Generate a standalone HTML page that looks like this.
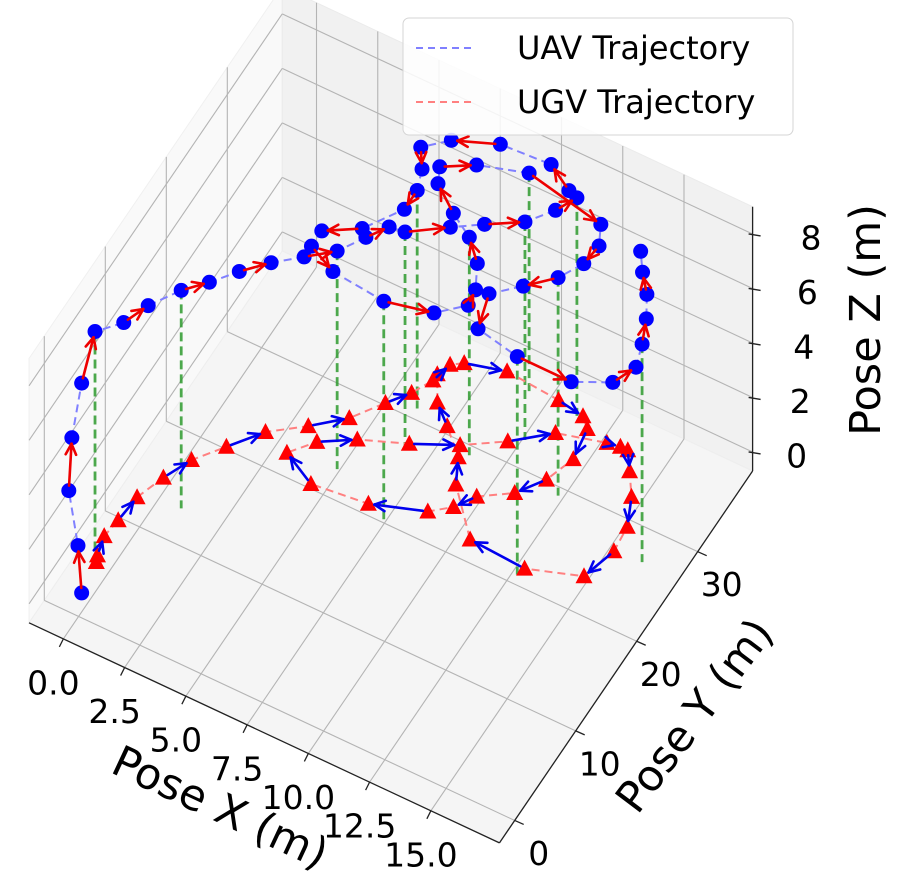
<!DOCTYPE html>
<html><head><meta charset="utf-8"><style>html,body{margin:0;padding:0;background:#fff}svg{display:block}</style></head>
<body>
<svg id="chart" width="901" height="875" viewBox="0 0 901 875" xmlns="http://www.w3.org/2000/svg" font-family="'DejaVu Sans','Liberation Sans',sans-serif">
<g id="panes"></g>
<g id="grid"></g>
<g id="axes"></g>
<g id="plot"></g>
<g>
<rect x="403" y="18" width="390" height="117" rx="6" fill="#fff" fill-opacity="0.85" stroke="#d5d5d5"/>
<line x1="416" y1="48" x2="472" y2="48" stroke="#8080ff" stroke-width="2" stroke-dasharray="7,5"/>
<text x="517" y="48" font-size="32" dominant-baseline="central">UAV Trajectory</text>
<line x1="416" y1="102" x2="472" y2="102" stroke="#ff8080" stroke-width="2" stroke-dasharray="7,5"/>
<text x="517" y="102" font-size="32" dominant-baseline="central">UGV Trajectory</text>
</g>
</svg>
<script>
const xTicks=[0,2.5,5,7.5,10,12.5,15];
const xTickLabels=["0.0","2.5","5.0","7.5","10.0","12.5","15.0"];
const yTicks=[0,10,20,30];
const yTickLabels=["0","10","20","30"];
const zTicks=[0,2,4,6,8];
const zTickLabels=["0","2","4","6","8"];
const uavX=[0.0,-0.1,-0.4,-0.3,0.0,-0.5,0.2,0.6,1.3,2.0,2.7,3.5,4.4,5.3,5.9,6.4,7.0,8.3,9.3,10.5,11.2,11.6,11.2,10.1,8.1,6.5,5.7,6.2,6.5,6.5,5.6,4.4,4.4,5.6,7.8,9.6,10.5,10.4,9.9,9.1,8.1,7.0,6.7,7.8,9.6,12.9,13.3,13.2,12.7,11.8,10.9,11.3,13.1,15.3,16.6,17.0,16.7,16.3,15.8,15.2,14.7];
const uavY=[0.5,0.3,0.0,0.1,0.5,4.7,6.6,9.0,11.6,13.4,15.5,17.5,19.3,21.1,23.4,25.2,25.4,27.6,29.2,31.0,33.2,35.1,35.4,36.9,36.6,35.0,33.2,31.4,29.4,27.3,24.0,22.2,20.5,19.2,18.7,19.7,21.7,23.3,25.6,27.5,28.9,30.8,32.3,33.9,35.3,33.8,31.9,29.8,27.6,25.5,23.5,20.1,19.3,19.3,20.9,23.1,25.3,27.6,29.7,31.4,33.1];
const uavZ=[0,1.76,3.75,5.7,7.7,8,8,8,8,8,8,8,8,8,8,8,8,8,8,8,8,8,8,8,8,8,8,8,8,8,8,8,8,8,8,8,8,8,8,8,8,8,8,8,8,8,8,8,8,8,8,8,8,8,8,8,8,8,8,8,8];
const greenIdx=[5,8,13,16,19,21,28,34,39,44,48,52,56];
const ugvX=[-0.2,-0.3,-0.5,-0.4,-0.3,0.1,0.6,1.4,2.3,3.5,4.6,5.4,6.0,6.4,6.6,7.0,8.5,10.7,11.8,12.2,12.4,12.0,11.3,10.2,9.7,9.0,7.0,4.8,3.4,4.1,5.3,7.0,8.6,10.0,11.3,13.1,13.6,13.9,14.4,15.0,15.5,15.6,15.2,13.2,10.9,9.3,8.8,7.8,7.0,6.4];
const ugvY=[3.7,4.3,6.2,8.1,10.8,13.5,16.1,18.6,21.4,23.6,25.9,28.6,30.5,32.4,34.4,35.1,36.1,35.7,35.3,34.4,31.3,28.5,26.1,24.3,22.5,21.1,19.4,18.8,20.5,22.6,24.4,26.1,28.0,30.2,32.8,34.0,34.2,34.2,32.5,30.4,27.7,25.1,21.8,20.1,20.4,24.5,26.9,29.1,30.7,33.1];

const XMIN=-1.4,XMAX=17.8,YMIN=-2.5,YMAX=39,ZMIN=-0.7,ZMAX=9.0;
const NS="http://www.w3.org/2000/svg";
function P(x,y,z){return [78.6+24.5*x+6.1*y, 597.4+11.46*x-8.96*y-27.25*z];}
function mk(tag,attrs,parent){const e=document.createElementNS(NS,tag);for(const k in attrs)e.setAttribute(k,attrs[k]);parent.appendChild(e);return e;}
function poly(pts){return pts.map(p=>p[0].toFixed(1)+','+p[1].toFixed(1)).join(' ');}
const panes=document.getElementById('panes'),grid=document.getElementById('grid'),axes=document.getElementById('axes'),plot=document.getElementById('plot');

let e;
e=mk('polygon',{points:poly([P(XMIN,YMIN,ZMIN),P(XMIN,YMAX,ZMIN),P(XMIN,YMAX,ZMAX),P(XMIN,YMIN,ZMAX)]),fill:'#f9f9f9',stroke:'#f0f0f0'},panes);


e=mk('polygon',{points:poly([P(XMIN,YMAX,ZMIN),P(XMAX,YMAX,ZMIN),P(XMAX,YMAX,ZMAX),P(XMIN,YMAX,ZMAX)]),fill:'#f1f1f1',stroke:'#ebebeb'},panes);


e=mk('polygon',{points:poly([P(XMIN,YMIN,ZMIN),P(XMAX,YMIN,ZMIN),P(XMAX,YMAX,ZMIN),P(XMIN,YMAX,ZMIN)]),fill:'#f5f5f5',stroke:'#eeeeee'},panes);



function gline(a,b,name){const l=mk('line',{x1:a[0],y1:a[1],x2:b[0],y2:b[1],stroke:'#b4b4b4','stroke-width':1.1},grid);

}
xTicks.forEach(t=>{gline(P(t,YMIN,ZMIN),P(t,YMAX,ZMIN),'x-gridline');gline(P(t,YMAX,ZMIN),P(t,YMAX,ZMAX),'x-gridline');});
yTicks.forEach(t=>{gline(P(XMIN,t,ZMIN),P(XMAX,t,ZMIN),'y-gridline');gline(P(XMIN,t,ZMIN),P(XMIN,t,ZMAX),'y-gridline');});
zTicks.forEach(t=>{gline(P(XMIN,YMIN,t),P(XMIN,YMAX,t),'z-gridline');gline(P(XMIN,YMAX,t),P(XMAX,YMAX,t),'z-gridline');});

function aline(a,b,name){const l=mk('line',{x1:a[0],y1:a[1],x2:b[0],y2:b[1],stroke:'#222','stroke-width':1.3},axes);

}
aline(P(XMIN,YMIN,ZMIN),P(XMAX,YMIN,ZMIN),'x-axis-line');
aline(P(XMAX,YMIN,ZMIN),P(XMAX,YMAX,ZMIN),'y-axis-line');
aline(P(XMAX,YMAX,ZMIN),P(XMAX,YMAX,ZMAX),'z-axis-line');
function txt(s,x,y,size,rot,name){const t=mk('text',{x:x,y:y,'font-size':size,'text-anchor':'middle','dominant-baseline':'central',fill:'#000'},axes);
if(rot)t.setAttribute('transform','rotate('+rot+' '+x+' '+y+')');
t.textContent=s;

}
xTicks.forEach((t,i)=>{const p=P(t,YMIN,ZMIN);aline(p,[p[0]-4,p[1]+8],'x-tick');txt(xTickLabels[i],p[0]-10,p[1]+44,33,0,'x-tick-label');});
yTicks.forEach((t,i)=>{const p=P(XMAX,t,ZMIN);aline(p,[p[0]+9,p[1]+4],'y-tick');txt(yTickLabels[i],p[0]+24,p[1]+33,33,0,'y-tick-label');});
zTicks.forEach((t,i)=>{const p=P(XMAX,YMAX,t);aline([p[0]-4,p[1]],[p[0]+8,p[1]+2],'z-tick');txt(zTickLabels[i],p[0]+44+t*1.8,p[1]+4,33,0,'z-tick-label');});
txt('Pose X (m)',220,808,43,25,'x-axis-title');
txt('Pose Y (m)',695,716,43,-53,'y-axis-title');
txt('Pose Z (m)',866,320,43,-90,'z-axis-title');

function arrow(a,b,color,name){
  const dx=b[0]-a[0],dy=b[1]-a[1],L=Math.hypot(dx,dy);if(L<3)return;
  const ux=dx/L,uy=dy/L;const s=[a[0]+ux*5,a[1]+uy*5],t=[b[0]-ux*6,b[1]-uy*6];
  const g=mk('g',{stroke:color,'stroke-width':2.6,fill:'none','stroke-linecap':'round'},plot);
  
  
  mk('line',{x1:s[0],y1:s[1],x2:t[0],y2:t[1]},g);
  const h=12,an=0.45;
  [an,-an].forEach(q=>{const c=Math.cos(q),sn=Math.sin(q);const hx=-(ux*c-uy*sn)*h,hy=-(ux*sn+uy*c)*h;mk('line',{x1:t[0],y1:t[1],x2:t[0]+hx,y2:t[1]+hy},g);});
}

greenIdx.forEach(i=>{const a=P(uavX[i],uavY[i],uavZ[i]),b=P(uavX[i],uavY[i],0);
const l=mk('line',{x1:a[0],y1:a[1],x2:b[0],y2:b[1],stroke:'#2e9a2e','stroke-width':2.8,'stroke-dasharray':'9,5','stroke-opacity':0.85},plot);

});

const ugvPts=ugvX.map((x,i)=>P(x,ugvY[i],0));
e=mk('polyline',{points:poly(ugvPts),fill:'none',stroke:'#ff8080','stroke-width':2,'stroke-dasharray':'8,5'},plot);


ugvPts.forEach(p=>{const t=mk('polygon',{points:poly([[p[0],p[1]-9],[p[0]-8.5,p[1]+7],[p[0]+8.5,p[1]+7]]),fill:'#f00'},plot);

});
for(let i=1;i<ugvPts.length-1;i+=2)arrow(ugvPts[i],ugvPts[i+1],'#0000ee','ugv-direction-arrow');

const uavPts=uavX.map((x,i)=>P(x,uavY[i],uavZ[i]));
e=mk('polyline',{points:poly(uavPts),fill:'none',stroke:'#8080ff','stroke-width':2,'stroke-dasharray':'8,5'},plot);


uavPts.forEach(p=>{const c=mk('circle',{cx:p[0],cy:p[1],r:7.5,fill:'#0000ff'},plot);

});
for(let i=0;i<uavPts.length-1;i+=2)arrow(uavPts[i],uavPts[i+1],'#ee0000','uav-direction-arrow');
</script>
</body></html>
